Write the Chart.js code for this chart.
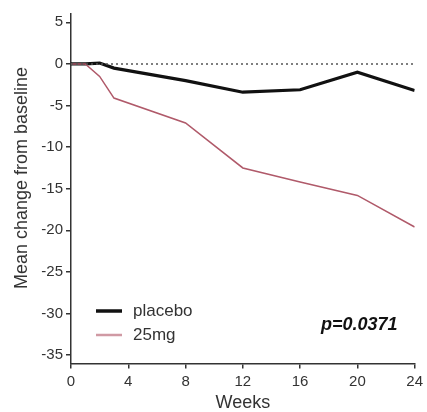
<!DOCTYPE html>
<html>
<head>
<meta charset="utf-8">
<script src="https://cdn.jsdelivr.net/npm/chart.js@4"></script>
<style>
  html, body { margin:0; padding:0; background:#fff; }
  #wrap { width:427px; height:412px; }
</style>
</head>
<body>
<div id="wrap"><canvas id="chart" width="427" height="412"></canvas></div>
<script>
const weeks = [0, 1, 2, 3, 8, 12, 16, 20, 24];
const placebo = [0, 0, 0.1, -0.5, -2.0, -3.4, -3.1, -1.0, -3.2];
const dose25 = [0, 0, -1.5, -4.1, -7.1, -12.5, -14.2, -15.8, -19.6];
const xTicks = [0, 4, 8, 12, 16, 20, 24];
const yTicks = [5, 0, -5, -10, -15, -20, -25, -30, -35];
const seriesNames = ['placebo', '25mg'];
const yTitle = 'Mean change from baseline';
const pValue = 'p=0.0371';

const FONT = '"Liberation Sans", Arial, sans-serif';
const BLACK = '#111';
const RED = '#b05a6a';

const toXY = vals => vals.map((v, i) => ({x: weeks[i], y: v}));

// legend, p value and y title drawn by hand
const annotations = {
  id: 'annotations',
  afterDatasetsDraw(chart) {
    const ctx = chart.ctx;
    ctx.save();
    const items = [
      {name: seriesNames[0], color: BLACK, width: 3.5, y: 311},
      {name: seriesNames[1], color: '#d09aa4', width: 2.5, y: 335}
    ];
    items.forEach(it => {
      ctx.strokeStyle = it.color;
      ctx.lineWidth = it.width;
      ctx.beginPath();
      ctx.moveTo(96, it.y);
      ctx.lineTo(122, it.y);
      ctx.stroke();
      ctx.fillStyle = '#333';
      ctx.font = '17px ' + FONT;
      ctx.textBaseline = 'middle';
      ctx.fillText(it.name, 133, it.y);
    });
    ctx.font = 'italic bold 18px ' + FONT;
    ctx.fillStyle = '#111';
    ctx.fillText(pValue, 321, 325);

    ctx.translate(22, 178);
    ctx.rotate(-Math.PI / 2);
    ctx.textAlign = 'center';
    ctx.font = '18px ' + FONT;
    ctx.fillStyle = '#333';
    ctx.fillText(yTitle, 0, 0);
    ctx.restore();
  }
};

new Chart(document.getElementById('chart'), {
  type: 'line',
  data: {
    datasets: [
      {
        label: 'zero',
        data: [{x: 0, y: 0}, {x: 24, y: 0}],
        borderColor: '#555',
        borderWidth: 1.5,
        borderDash: [2, 3],
        pointRadius: 0
      },
      {
        label: seriesNames[1],
        data: toXY(dose25),
        borderColor: RED,
        borderWidth: 1.5,
        pointRadius: 0,
        tension: 0
      },
      {
        label: seriesNames[0],
        data: toXY(placebo),
        borderColor: BLACK,
        borderWidth: 3.2,
        pointRadius: 0,
        tension: 0
      }
    ]
  },
  options: {
    responsive: false,
    animation: false,
    layout: { padding: { left: 0, right: 10, top: 14, bottom: 0 } },
    plugins: { legend: { display: false }, tooltip: { enabled: false } },
    scales: {
      x: {
        type: 'linear',
        min: 0, max: 24,
        afterBuildTicks: s => { s.ticks = xTicks.map(v => ({value: v})); },
        afterFit: s => { s.height = 48.5; },
        ticks: { color: '#333', font: { family: FONT, size: 15 }, padding: 4, maxRotation: 0 },
        grid: { drawOnChartArea: false, tickLength: 5, color: '#333', lineWidth: 1.5 },
        border: { color: '#333', width: 1.5 },
        title: { display: true, text: 'Weeks', color: '#333', font: { family: FONT, size: 18, lineHeight: 1 }, padding: { top: 0, bottom: 0 } }
      },
      y: {
        min: -36, max: 6,
        afterBuildTicks: s => { s.ticks = yTicks.map(v => ({value: v})); },
        afterFit: s => { s.width = 71; },
        ticks: { color: '#333', font: { family: FONT, size: 15 }, padding: 3 },
        grid: { drawOnChartArea: false, tickLength: 5, color: '#333', lineWidth: 1.5 },
        border: { color: '#333', width: 1.5 }
      }
    }
  },
  plugins: [annotations]
});
</script>
</body>
</html>
